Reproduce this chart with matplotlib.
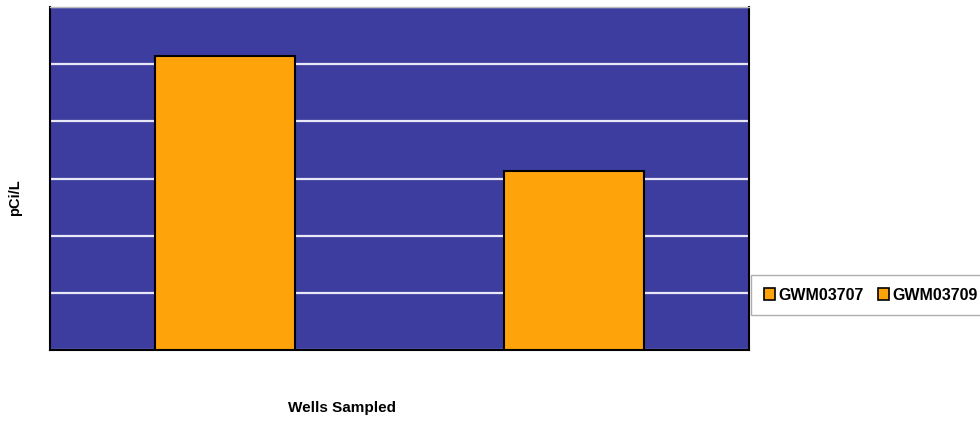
import matplotlib.pyplot as plt

plt.rcParams['font.family'] = ['Liberation Sans', 'DejaVu Sans']

# 数据
wells = ['GWM03707', 'GWM03709']
values = [5.14, 3.13]
yticks = [0, 1, 2, 3, 4, 5, 6]

fig = plt.figure(figsize=(9.8, 4.21), dpi=100)
ax = fig.add_axes([50 / 980, 71 / 421, 699 / 980, 343 / 421])
ax.set_facecolor('#3D3D9F')

for i, (w, v) in enumerate(zip(wells, values)):
    ax.bar(i, v, width=0.4, color='#FFA30B', edgecolor='black', linewidth=1.5, label=w, zorder=3)

ax.set_xlim(-0.5, 1.5)
ax.set_ylim(0, 6)
ax.set_yticks(yticks)
ax.yaxis.grid(True, color='#E8E8F8', linewidth=1.6, zorder=1)
ax.set_xticks([])
ax.tick_params(axis='y', length=0, labelleft=False)

for s in ['left', 'bottom', 'right']:
    ax.spines[s].set_linewidth(1.5)
    ax.spines[s].set_color('black')
ax.spines['top'].set_color('#BBBBBB')
ax.spines['top'].set_linewidth(1.0)

fig.text(15 / 980, 1 - 198 / 421, 'pCi/L', rotation=90, ha='center', va='center',
         fontsize=10.5, fontweight='bold')
fig.text(342 / 980, 1 - 408 / 421, 'Wells Sampled', ha='center', va='center',
         fontsize=11, fontweight='bold')

leg = fig.legend(loc='center left', bbox_to_anchor=(751 / 980, 1 - 295 / 421), ncol=2,
                 frameon=True, fancybox=False, edgecolor='#999999', handlelength=0.7,
                 handleheight=0.7, handletextpad=0.2, columnspacing=0.9, borderpad=0.8,
                 borderaxespad=0, prop={'weight': 'bold', 'size': 11.5})
for h in leg.legend_handles:
    h.set_linewidth(1.2)

plt.savefig('out.png', dpi=100)
